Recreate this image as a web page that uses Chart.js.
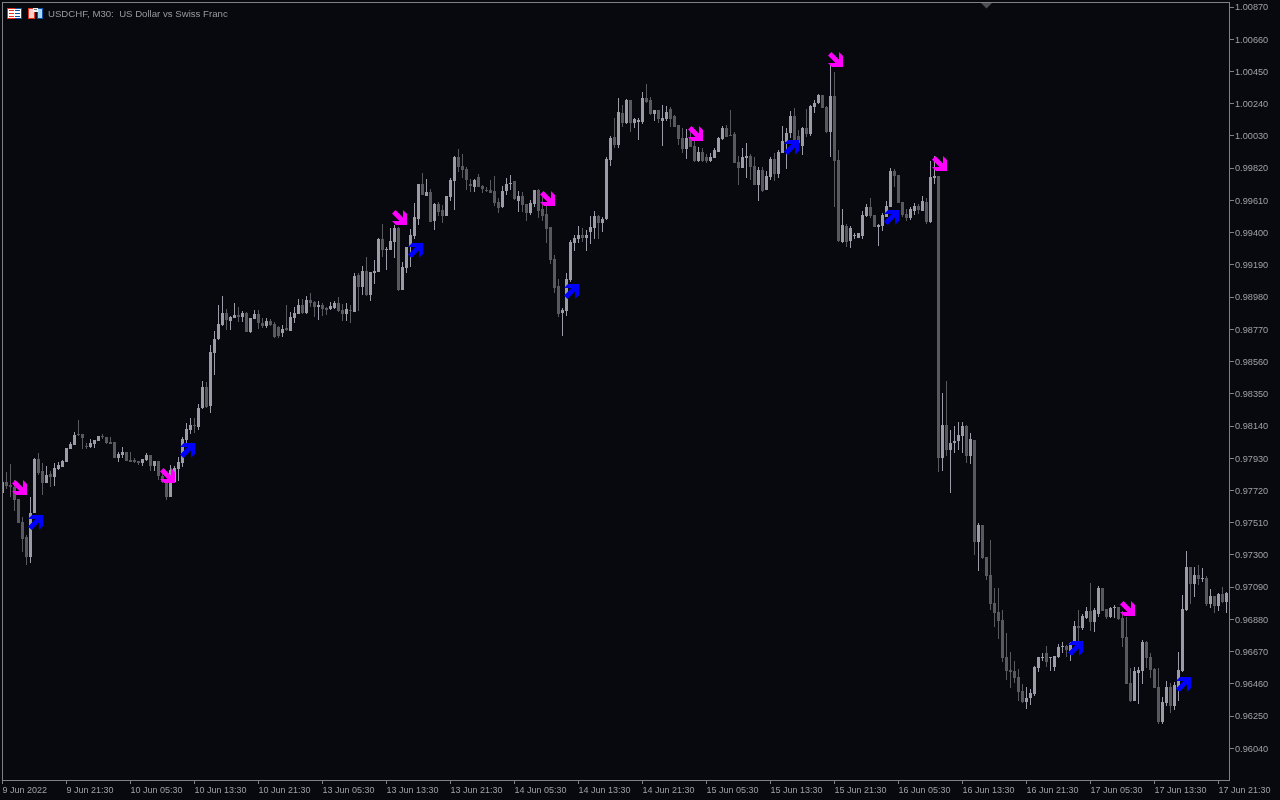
<!DOCTYPE html>
<html>
<head>
<meta charset="utf-8">
<title>USDCHF, M30</title>
<script src="https://cdn.jsdelivr.net/npm/chart.js@4/dist/chart.umd.min.js"></script>
<style>
html, body { margin: 0; padding: 0; background: #08090e; overflow: hidden; }
#myChart { position: absolute; left: 0; top: 0; }
#title { position: absolute; left: 48px; top: 8px; font: 9.65px "Liberation Sans", sans-serif; color: #9a9aa2; white-space: pre; }
</style>
</head>
<body>
<canvas id="myChart" width="1280" height="800"></canvas>
<div id="title">USDCHF, M30:  US Dollar vs Swiss Franc</div>
<script>
const opens = [0.97704,0.97776,0.97756,0.97743,0.97665,0.97515,0.97417,0.97287,0.97573,0.97925,0.97847,0.97769,0.97828,0.97808,0.97860,0.97873,0.97906,0.97991,0.98017,0.98089,
0.98089,0.98010,0.98004,0.98023,0.98043,0.98076,0.98069,0.98036,0.98036,0.97932,0.97951,0.97971,0.97919,0.97919,0.97912,0.97899,0.97919,0.97951,0.97880,0.97912,
0.97815,0.97776,0.97678,0.97776,0.97860,0.97899,0.98049,0.98115,0.98147,0.98134,0.98258,0.98395,0.98271,0.98616,0.98708,0.98799,0.98877,0.98825,0.98844,0.98864,
0.98851,0.98877,0.98753,0.98838,0.98870,0.98812,0.98792,0.98825,0.98805,0.98786,0.98747,0.98779,0.98760,0.98844,0.98870,0.98929,0.98877,0.98961,0.98949,0.98916,
0.98929,0.98909,0.98903,0.98909,0.98942,0.98896,0.98870,0.98896,0.98883,0.99124,0.99046,0.99150,0.98994,0.99137,0.99144,0.99359,0.99287,0.99287,0.99339,0.99431,
0.99027,0.99170,0.99307,0.99379,0.99489,0.99717,0.99639,0.99665,0.99476,0.99587,0.99548,0.99509,0.99632,0.99737,0.99893,0.99834,0.99815,0.99717,0.99698,0.99763,
0.99704,0.99678,0.99678,0.99672,0.99600,0.99567,0.99672,0.99717,0.99737,0.99606,0.99639,0.99587,0.99528,0.99587,0.99678,0.99554,0.99522,0.99437,0.99228,0.99053,
0.98877,0.98890,0.99092,0.99333,0.99359,0.99385,0.99366,0.99405,0.99431,0.99509,0.99463,0.99489,0.99873,1.00024,0.99971,1.00180,1.00115,1.00264,1.00115,1.00121,
1.00121,1.00277,1.00264,1.00173,1.00199,1.00128,1.00141,1.00206,1.00160,1.00102,1.00017,0.99945,1.00017,0.99965,0.99867,0.99926,0.99893,0.99867,0.99887,0.99926,
1.00011,1.00082,1.00037,1.00043,0.99860,0.99821,0.99887,0.99900,0.99834,0.99711,0.99808,0.99678,0.99763,0.99880,0.99782,0.99919,0.99991,1.00050,1.00160,1.00030,
0.99965,1.00082,1.00043,1.00219,1.00245,1.00297,1.00219,1.00056,1.00291,0.99873,0.99339,0.99444,0.99346,0.99379,0.99366,0.99379,0.99509,0.99567,0.99515,0.99437,
0.99444,0.99502,0.99567,0.99802,0.99776,0.99600,0.99522,0.99495,0.99541,0.99574,0.99541,0.99600,0.99469,0.99756,0.99769,0.97932,0.98147,0.97984,0.98030,0.98043,
0.98076,0.98141,0.97945,0.98049,0.97385,0.97496,0.97287,0.97170,0.96987,0.96929,0.96877,0.96636,0.96551,0.96545,0.96506,0.96414,0.96343,0.96369,0.96395,0.96564,
0.96630,0.96662,0.96630,0.96571,0.96636,0.96701,0.96708,0.96675,0.96721,0.96838,0.96825,0.96890,0.96935,0.96864,0.96916,0.97085,0.96948,0.96896,0.96955,0.96961,
0.96890,0.96766,0.96466,0.96349,0.96532,0.96545,0.96734,0.96636,0.96558,0.96440,0.96212,0.96336,0.96440,0.96317,0.96420,0.96545,0.96942,0.97222,0.97111,0.97170,
0.97144,0.97150,0.96981,0.97033,0.96968,0.97046,0.96994];

const highs = [0.97782,0.97841,0.97893,0.97789,0.97665,0.97547,0.97430,0.97678,0.97932,0.97964,0.97899,0.97880,0.97847,0.97899,0.97906,0.97919,0.97997,0.98036,0.98102,0.98180,
0.98089,0.98030,0.98056,0.98049,0.98076,0.98089,0.98069,0.98069,0.98036,0.97971,0.98004,0.97971,0.97971,0.97932,0.97912,0.97925,0.97964,0.97951,0.97912,0.97912,
0.97854,0.97776,0.97886,0.97880,0.97938,0.98069,0.98160,0.98193,0.98193,0.98284,0.98434,0.98427,0.98669,0.98760,0.98929,0.98988,0.98903,0.98857,0.98942,0.98916,
0.98890,0.98883,0.98844,0.98896,0.98896,0.98844,0.98844,0.98838,0.98818,0.98792,0.98799,0.98929,0.98883,0.98916,0.98968,0.98968,0.98988,0.99007,0.98955,0.98955,
0.98942,0.98916,0.98949,0.98955,0.98981,0.98935,0.98942,0.98929,0.99137,0.99137,0.99183,0.99241,0.99144,0.99222,0.99366,0.99457,0.99307,0.99431,0.99450,0.99437,
0.99209,0.99307,0.99424,0.99593,0.99717,0.99789,0.99750,0.99685,0.99593,0.99600,0.99580,0.99639,0.99756,0.99900,0.99945,0.99913,0.99828,0.99750,0.99750,0.99782,
0.99711,0.99698,0.99743,0.99769,0.99626,0.99704,0.99756,0.99776,0.99737,0.99672,0.99665,0.99587,0.99613,0.99678,0.99685,0.99632,0.99580,0.99437,0.99254,0.99098,
0.98909,0.99137,0.99352,0.99385,0.99444,0.99431,0.99418,0.99509,0.99541,0.99515,0.99502,0.99893,1.00030,1.00147,1.00277,1.00232,1.00271,1.00264,1.00147,1.00147,
1.00316,1.00369,1.00284,1.00199,1.00199,1.00232,1.00225,1.00219,1.00167,1.00102,1.00082,1.00076,1.00069,1.00004,0.99958,0.99952,0.99913,0.99919,0.99952,1.00024,
1.00095,1.00102,1.00199,1.00056,0.99900,0.99952,0.99984,0.99913,0.99893,0.99828,0.99828,0.99802,0.99893,0.99919,0.99939,1.00095,1.00082,1.00193,1.00212,1.00069,
1.00089,1.00206,1.00232,1.00264,1.00304,1.00297,1.00225,1.00493,1.00447,0.99939,0.99554,0.99457,0.99444,0.99398,0.99398,0.99541,0.99587,0.99626,0.99515,0.99457,
0.99528,0.99606,0.99821,0.99815,0.99776,0.99600,0.99554,0.99567,0.99593,0.99587,0.99639,0.99626,0.99867,0.99900,0.99769,0.98356,0.98434,0.98115,0.98141,0.98167,
0.98167,0.98147,0.98095,0.98049,0.97508,0.97496,0.97287,0.97398,0.97085,0.97085,0.96942,0.96792,0.96668,0.96610,0.96558,0.96460,0.96440,0.96427,0.96577,0.96636,
0.96662,0.96708,0.96636,0.96643,0.96721,0.96734,0.96714,0.96734,0.96870,0.96942,0.96916,0.96961,0.97118,0.96955,0.97098,0.97085,0.96948,0.96961,0.96974,0.96961,
0.96935,0.96896,0.96564,0.96571,0.96571,0.96747,0.96740,0.96662,0.96564,0.96564,0.96375,0.96479,0.96466,0.96473,0.96668,0.97040,0.97326,0.97222,0.97222,0.97235,
0.97215,0.97163,0.97079,0.97033,0.97053,0.97092,0.97059];

const lows = [0.97704,0.97730,0.97678,0.97586,0.97508,0.97320,0.97235,0.97248,0.97573,0.97821,0.97691,0.97769,0.97743,0.97750,0.97854,0.97873,0.97906,0.97991,0.98017,0.98076,
0.97991,0.97991,0.97997,0.97997,0.98043,0.98056,0.98023,0.98023,0.97932,0.97906,0.97932,0.97912,0.97906,0.97899,0.97886,0.97880,0.97912,0.97847,0.97847,0.97789,
0.97769,0.97658,0.97678,0.97776,0.97782,0.97873,0.98023,0.98089,0.98095,0.98115,0.98251,0.98258,0.98225,0.98473,0.98701,0.98792,0.98766,0.98766,0.98844,0.98818,
0.98818,0.98753,0.98747,0.98838,0.98773,0.98779,0.98779,0.98792,0.98714,0.98714,0.98721,0.98760,0.98760,0.98812,0.98870,0.98870,0.98870,0.98916,0.98851,0.98831,
0.98857,0.98864,0.98896,0.98903,0.98883,0.98825,0.98825,0.98812,0.98883,0.98890,0.98994,0.98988,0.98955,0.99066,0.99144,0.99241,0.99157,0.99287,0.99235,0.99020,
0.99027,0.99137,0.99176,0.99359,0.99450,0.99645,0.99639,0.99469,0.99418,0.99509,0.99463,0.99509,0.99606,0.99548,0.99795,0.99756,0.99678,0.99665,0.99665,0.99698,
0.99658,0.99665,0.99658,0.99574,0.99528,0.99561,0.99645,0.99678,0.99613,0.99535,0.99535,0.99476,0.99515,0.99567,0.99495,0.99476,0.99333,0.99196,0.99007,0.98851,
0.98727,0.98857,0.99079,0.99281,0.99333,0.99339,0.99281,0.99326,0.99359,0.99359,0.99405,0.99483,0.99834,0.99952,0.99952,1.00089,1.00108,1.00056,1.00082,1.00004,
1.00108,1.00245,1.00167,1.00128,1.00115,0.99965,1.00128,1.00089,1.00089,0.99971,0.99919,0.99880,0.99958,0.99860,0.99860,0.99860,0.99854,0.99860,0.99887,0.99926,
1.00004,1.00024,1.00030,0.99854,0.99711,0.99821,0.99756,0.99743,0.99711,0.99606,0.99665,0.99678,0.99743,0.99737,0.99756,0.99919,0.99815,1.00017,0.99984,0.99984,
0.99906,1.00024,1.00030,1.00180,1.00238,1.00212,1.00050,0.99893,0.99567,0.99339,0.99333,0.99307,0.99300,0.99359,0.99366,0.99359,0.99502,0.99495,0.99437,0.99313,
0.99411,0.99502,0.99567,0.99698,0.99593,0.99502,0.99476,0.99483,0.99515,0.99522,0.99541,0.99457,0.99463,0.99717,0.97841,0.97847,0.97945,0.97704,0.97964,0.97984,
0.97964,0.97899,0.97893,0.97300,0.97196,0.97274,0.97137,0.96942,0.96831,0.96753,0.96603,0.96486,0.96434,0.96466,0.96349,0.96336,0.96297,0.96323,0.96382,0.96538,
0.96610,0.96571,0.96545,0.96545,0.96630,0.96662,0.96636,0.96610,0.96714,0.96734,0.96812,0.96883,0.96805,0.96799,0.96896,0.96935,0.96883,0.96890,0.96890,0.96877,
0.96701,0.96460,0.96343,0.96349,0.96330,0.96460,0.96564,0.96499,0.96434,0.96199,0.96199,0.96317,0.96271,0.96290,0.96349,0.96538,0.96935,0.96981,0.97027,0.97105,
0.97124,0.96968,0.96955,0.96922,0.96935,0.96987,0.96922];

const closes = [0.97776,0.97750,0.97743,0.97658,0.97508,0.97404,0.97287,0.97573,0.97925,0.97834,0.97769,0.97821,0.97808,0.97867,0.97886,0.97912,0.97997,0.98023,0.98082,0.98082,
0.98063,0.98004,0.98030,0.98049,0.98076,0.98069,0.98030,0.98023,0.97932,0.97958,0.97971,0.97912,0.97906,0.97906,0.97899,0.97925,0.97951,0.97880,0.97912,0.97815,
0.97776,0.97678,0.97854,0.97867,0.97906,0.98056,0.98121,0.98147,0.98141,0.98258,0.98395,0.98265,0.98623,0.98708,0.98805,0.98877,0.98831,0.98851,0.98864,0.98851,
0.98877,0.98753,0.98844,0.98870,0.98812,0.98792,0.98825,0.98799,0.98721,0.98727,0.98773,0.98766,0.98851,0.98877,0.98929,0.98877,0.98961,0.98942,0.98916,0.98929,
0.98903,0.98896,0.98922,0.98942,0.98890,0.98870,0.98903,0.98890,0.99118,0.99046,0.99150,0.98994,0.99144,0.99150,0.99359,0.99287,0.99294,0.99346,0.99431,0.99027,
0.99176,0.99307,0.99385,0.99502,0.99717,0.99645,0.99665,0.99469,0.99587,0.99535,0.99509,0.99639,0.99743,0.99893,0.99828,0.99808,0.99743,0.99704,0.99743,0.99698,
0.99685,0.99672,0.99658,0.99593,0.99561,0.99672,0.99717,0.99724,0.99619,0.99639,0.99580,0.99528,0.99593,0.99678,0.99541,0.99509,0.99424,0.99222,0.99040,0.98870,
0.98896,0.99098,0.99339,0.99366,0.99385,0.99366,0.99385,0.99437,0.99509,0.99463,0.99489,0.99880,1.00017,0.99971,1.00186,1.00115,1.00264,1.00115,1.00141,1.00134,
1.00277,1.00251,1.00173,1.00199,1.00141,1.00147,1.00186,1.00141,1.00089,1.00011,0.99945,1.00017,0.99958,0.99867,0.99926,0.99867,0.99867,0.99893,0.99939,1.00017,
1.00082,1.00024,1.00030,0.99854,0.99821,0.99893,0.99900,0.99828,0.99711,0.99808,0.99672,0.99769,0.99880,0.99782,0.99926,0.99997,1.00050,1.00160,1.00004,0.99984,
1.00082,1.00043,1.00225,1.00245,1.00297,1.00212,1.00056,1.00291,0.99867,0.99346,0.99450,0.99339,0.99431,0.99385,0.99398,0.99515,0.99567,0.99509,0.99437,0.99450,
0.99515,0.99574,0.99802,0.99769,0.99593,0.99515,0.99495,0.99554,0.99574,0.99548,0.99606,0.99469,0.99763,0.99769,0.97932,0.98147,0.97984,0.98030,0.98043,0.98082,
0.98141,0.97945,0.98056,0.97385,0.97496,0.97281,0.97163,0.96981,0.96922,0.96870,0.96629,0.96545,0.96538,0.96499,0.96408,0.96343,0.96369,0.96401,0.96571,0.96636,
0.96636,0.96603,0.96636,0.96643,0.96701,0.96708,0.96681,0.96727,0.96838,0.96825,0.96903,0.96935,0.96864,0.96942,0.97085,0.96935,0.96896,0.96955,0.96961,0.96883,
0.96760,0.96460,0.96349,0.96545,0.96551,0.96734,0.96630,0.96551,0.96434,0.96212,0.96343,0.96440,0.96317,0.96453,0.96551,0.96948,0.97222,0.97111,0.97170,0.97144,
0.97150,0.96981,0.97033,0.96968,0.97046,0.96994,0.97053];

const sellBars = [4, 41, 99, 136, 173, 208, 234, 281];
const sellPrices = [0.97740, 0.97815, 0.99499, 0.99623, 1.00043, 1.00528, 0.99851, 0.96952];
const buyBars = [8, 46, 103, 142, 197, 222, 268, 295];
const buyPrices = [0.97512, 0.97978, 0.99287, 0.99020, 0.99958, 0.99499, 0.96691, 0.96456];

const priceTicks = [1.00870,1.00660,1.00450,1.00240,1.00030,0.99820,0.99610,0.99400,0.99190,0.98980,0.98770,0.98560,0.98350,0.98140,0.97930,0.97720,0.97510,0.97300,0.97090,0.96880,0.96670,0.96460,0.96250,0.96040];
const timeTicks = ['9 Jun 2022','9 Jun 21:30','10 Jun 05:30','10 Jun 13:30','10 Jun 21:30','13 Jun 05:30','13 Jun 13:30','13 Jun 21:30','14 Jun 05:30','14 Jun 13:30','14 Jun 21:30','15 Jun 05:30','15 Jun 13:30','15 Jun 21:30','16 Jun 05:30','16 Jun 13:30','16 Jun 21:30','17 Jun 05:30','17 Jun 13:30','17 Jun 21:30'];
const barsPerTick = 16;

const frameColor = '#808088';
const textColor = '#a0a0a8';
const upColor = '#9c9ca8';
const downColor = '#58585e';

// arrow markers, pointing down-right (sell) or up-right (buy)
function makeArrow(color, flip) {
    const c = document.createElement('canvas');
    c.width = 17;
    c.height = 15;
    const g = c.getContext('2d');
    if (flip) {
        g.translate(0, 15);
        g.scale(1, -1);
    }
    g.translate(2, 0);
    g.fillStyle = color;
    g.beginPath();
    [[3.5,0],[11,7.5],[11,0],[15,4],[15,15],[4,15],[0,11],[7.5,11],[0,3.5]].forEach(function (p, i) {
        if (i === 0) g.moveTo(p[0], p[1]); else g.lineTo(p[0], p[1]);
    });
    g.closePath();
    g.fill();
    return c;
}

const candleColor = function (ctx) {
    const i = ctx.dataIndex;
    return closes[i] >= opens[i] ? upColor : downColor;
};

// MetaTrader draws on whole pixels, so snap what the scales gave us
const snapPlugin = {
    id: 'snap',
    beforeDatasetsDraw: function (chart) {
        chart.getSortedVisibleDatasetMetas().forEach(function (meta) {
            meta.data.forEach(function (el) {
                if (meta.type === 'bar') {
                    el.x = Math.floor(el.x) + 0.5;
                    el.y = Math.round(el.y);
                    el.base = Math.round(el.base);
                    if (el.y === el.base) el.base = el.y + 1;
                } else {
                    el.y = Math.floor(el.y) + 0.5;
                }
            });
        });
    }
};

const framePlugin = {
    id: 'frame',
    afterDraw: function (chart) {
        const g = chart.ctx;
        const a = chart.chartArea;
        g.save();
        g.strokeStyle = frameColor;
        g.lineWidth = 1;
        g.strokeRect(a.left + 0.5, a.top + 0.5, a.right - a.left, a.bottom - a.top);

        // chart shift marker
        g.fillStyle = '#4e4e56';
        g.beginPath();
        g.moveTo(981, 3);
        g.lineTo(992, 3);
        g.lineTo(986.5, 8.5);
        g.closePath();
        g.fill();

        // toolbar icons in the corner
        g.fillStyle = '#ffffff';
        g.fillRect(8, 8, 13, 11);
        g.fillStyle = '#e03020';
        g.fillRect(7, 8, 8, 1);
        g.fillRect(7, 18, 8, 1);
        g.fillRect(7, 8, 1, 11);
        g.fillRect(9, 10, 5, 1);
        g.fillRect(9, 13, 5, 1);
        g.fillRect(9, 16, 5, 1);
        g.fillStyle = '#1050a0';
        g.fillRect(15, 8, 7, 1);
        g.fillRect(15, 18, 7, 1);
        g.fillRect(21, 8, 1, 11);
        g.fillRect(15, 10, 5, 1);
        g.fillRect(15, 13, 5, 1);
        g.fillRect(15, 16, 5, 1);

        g.fillStyle = '#e03020';
        g.fillRect(28, 8, 7, 11);
        g.fillStyle = '#fcd0c8';
        g.fillRect(29, 9, 5, 9);
        g.fillStyle = '#1050a0';
        g.fillRect(37, 8, 6, 11);
        g.fillStyle = '#a8d8f8';
        g.fillRect(38, 9, 4, 9);
        g.fillStyle = '#f0f0f0';
        g.fillRect(33, 8, 5, 4);
        g.fillStyle = '#707070';
        g.fillRect(34, 9, 3, 1);
        g.restore();
    }
};

const xs = opens.map(function (v, i) { return i; });

const config = {
    data: {
        datasets: [
            { type: 'scatter', order: 0, pointStyle: makeArrow('#ff00ff', false), pointRadius: 8,
              data: sellBars.map(function (b, i) { return { x: b, y: sellPrices[i] }; }) },
            { type: 'scatter', order: 0, pointStyle: makeArrow('#0000ff', true), pointRadius: 8,
              data: buyBars.map(function (b, i) { return { x: b, y: buyPrices[i] }; }) },
            { type: 'bar', order: 1, barThickness: 3, grouped: false, inflateAmount: 0, backgroundColor: candleColor, borderWidth: 0,
              data: xs.map(function (i) { return { x: i, y: [opens[i], closes[i]] }; }) },
            { type: 'bar', order: 2, barThickness: 1, grouped: false, inflateAmount: 0, backgroundColor: candleColor, borderWidth: 0,
              data: xs.map(function (i) { return { x: i, y: [lows[i], highs[i]] }; }) }
        ]
    },
    options: {
        responsive: false,
        animation: false,
        events: [],
        layout: { autoPadding: false, padding: { left: 2, top: 2, right: 0, bottom: 0 } },
        plugins: { legend: { display: false }, tooltip: { enabled: false } },
        scales: {
            x: {
                type: 'linear',
                offset: false,
                min: -0.125,
                max: 306.625,
                grid: { offset: false, drawOnChartArea: false, color: frameColor, tickLength: 4 },
                border: { display: false },
                afterBuildTicks: function (axis) {
                    axis.ticks = timeTicks.map(function (t, k) { return { value: k * barsPerTick }; });
                },
                afterFit: function (axis) {
                    axis.height = 20;
                    axis.paddingLeft = 0;
                    axis.paddingRight = 0;
                },
                ticks: {
                    align: 'start',
                    autoSkip: false,
                    maxRotation: 0,
                    minRotation: 0,
                    padding: 1,
                    color: textColor,
                    font: { family: 'Liberation Sans', size: 9 },
                    callback: function (v) { return timeTicks[v / barsPerTick]; }
                }
            },
            y: {
                type: 'linear',
                position: 'right',
                min: 0.95834,
                max: 1.00903,
                grid: { drawOnChartArea: false, color: frameColor, tickLength: 5 },
                border: { display: false },
                afterBuildTicks: function (axis) {
                    axis.ticks = priceTicks.map(function (v) { return { value: v }; });
                },
                afterFit: function (axis) {
                    axis.width = 51;
                    axis.paddingTop = 0;
                    axis.paddingBottom = 0;
                },
                ticks: {
                    autoSkip: false,
                    padding: 1,
                    labelOffset: 0.7,
                    color: textColor,
                    font: { family: 'Liberation Sans', size: 9.2 },
                    callback: function (v) { return v.toFixed(5); }
                }
            }
        }
    },
    plugins: [snapPlugin, framePlugin]
};

const myChart = new Chart(document.getElementById('myChart'), config);
</script>
</body>
</html>
